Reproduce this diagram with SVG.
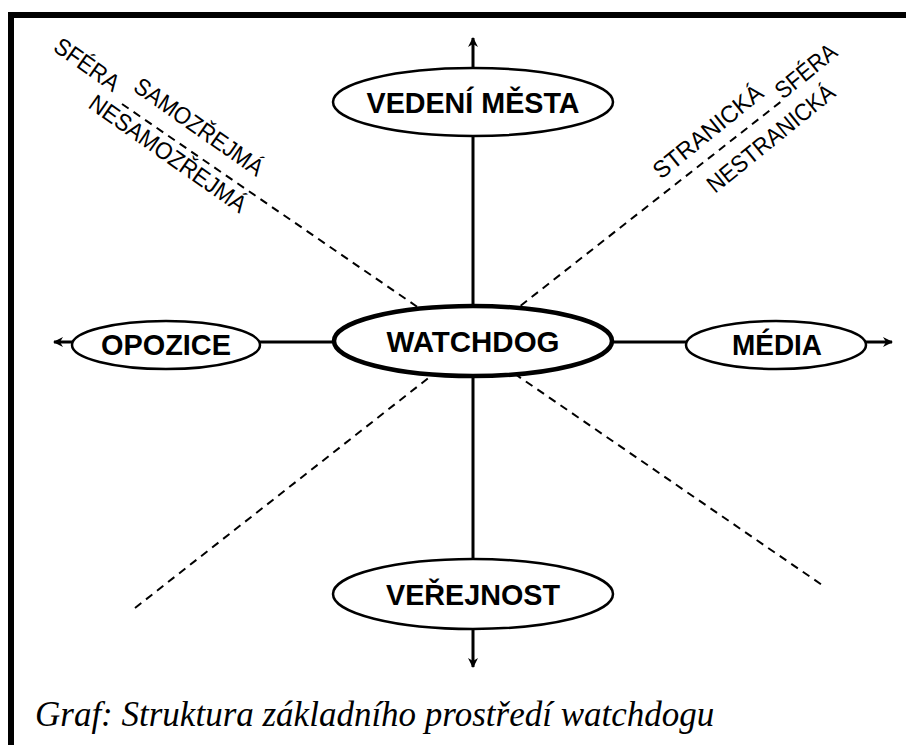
<svg xmlns="http://www.w3.org/2000/svg" width="906" height="745" viewBox="0 0 906 745">
<style>
.frame{stroke:#000;stroke-width:6;fill:none}
.axis{stroke:#000;stroke-width:3;fill:none}
.dash{stroke:#000;stroke-width:2;stroke-dasharray:8 6;fill:none}
.node{fill:#fff;stroke:#000;stroke-width:2.5}
.main{fill:#fff;stroke:#000;stroke-width:4.5}
.lbl{font-family:"Liberation Sans",Arial,sans-serif;font-weight:bold;font-size:30px;text-anchor:middle;fill:#000}
.side{font-family:"Liberation Sans",Arial,sans-serif;font-size:24px;fill:#000}
.cap{font-family:"Liberation Serif","Times New Roman",serif;font-style:italic;font-size:35px;fill:#000}
</style>
<defs>
<marker id="arr" viewBox="0 0 10 10" refX="9" refY="5" markerWidth="10" markerHeight="10" markerUnits="userSpaceOnUse" orient="auto">
<path d="M0,0 L10,5 L0,10 L3,5 Z" fill="#000"/>
</marker>
</defs>
<rect width="906" height="745" fill="#fff"/>
<path class="frame" d="M11,745 V15 H906"/>
<g id="connectors">
<line class="dash" x1="122" y1="104" x2="825" y2="587"/>
<line class="dash" x1="135" y1="608" x2="783" y2="100"/>
<line class="axis" x1="473" y1="341" x2="473" y2="38" marker-end="url(#arr)"/>
<line class="axis" x1="473" y1="341" x2="473" y2="667" marker-end="url(#arr)"/>
<line class="axis" x1="473" y1="342" x2="54" y2="342" marker-end="url(#arr)"/>
<line class="axis" x1="473" y1="342" x2="892" y2="342" marker-end="url(#arr)"/>
</g>
<g id="vedeni">
<ellipse class="node" cx="473" cy="102" rx="140" ry="34"/>
<text class="lbl" x="473" y="113" textLength="213" lengthAdjust="spacingAndGlyphs">VEDENÍ MĚSTA</text>
</g>
<g id="watchdog">
<ellipse class="main" cx="473" cy="341" rx="139" ry="35"/>
<text class="lbl" x="473" y="352" textLength="173" lengthAdjust="spacingAndGlyphs">WATCHDOG</text>
</g>
<g id="opozice">
<ellipse class="node" cx="166" cy="345" rx="94" ry="24"/>
<text class="lbl" x="166" y="355" textLength="130" lengthAdjust="spacingAndGlyphs">OPOZICE</text>
</g>
<g id="media">
<ellipse class="node" cx="776" cy="345" rx="90" ry="24"/>
<text class="lbl" x="777" y="355" textLength="90" lengthAdjust="spacingAndGlyphs">MÉDIA</text>
</g>
<g id="verejnost">
<ellipse class="node" cx="473" cy="594" rx="140" ry="35"/>
<text class="lbl" x="473" y="605" textLength="174" lengthAdjust="spacingAndGlyphs">VEŘEJNOST</text>
</g>
<g id="labels">
<text class="side" transform="translate(52,50) rotate(35)" textLength="74" lengthAdjust="spacingAndGlyphs">SFÉRA</text>
<text class="side" transform="translate(132,90) rotate(35)" textLength="152" lengthAdjust="spacingAndGlyphs">SAMOZŘEJMÁ</text>
<text class="side" transform="translate(87,107) rotate(35)" textLength="186" lengthAdjust="spacingAndGlyphs">NESAMOZŘEJMÁ</text>
<text class="side" transform="translate(661,180) rotate(-39)" textLength="134" lengthAdjust="spacingAndGlyphs">STRANICKÁ</text>
<text class="side" transform="translate(783,100) rotate(-39)" textLength="72" lengthAdjust="spacingAndGlyphs">SFÉRA</text>
<text class="side" transform="translate(715,194) rotate(-39)" textLength="157" lengthAdjust="spacingAndGlyphs">NESTRANICKÁ</text>
</g>
<text class="cap" x="35" y="726">Graf: Struktura základního prostředí watchdogu</text>
</svg>
